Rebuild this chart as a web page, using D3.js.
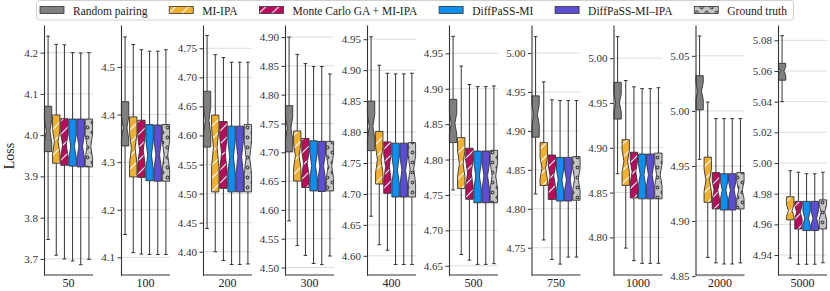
<!doctype html>
<html lang="en">
<head>
  <script src="https://d3js.org/d3.v7.min.js"></script>
  <style>
    body { margin: 0; background: #fff; }
    svg { font-family: "Liberation Serif", "DejaVu Serif", serif; }
  </style>
</head>
<body>
  <svg id="chart" width="830" height="291"></svg>
  <script>
    // number of sequences per panel (x labels)
    const sizes = ["50", "100", "200", "300", "400", "500", "750", "1000", "2000", "5000"];
    const methods = ["Random pairing", "MI-IPA", "Monte Carlo GA + MI-IPA", "DiffPaSS-MI", "DiffPaSS-MI\u2013IPA", "Ground truth"];

    // box stats, one row per panel, one column per method
    const whiskerLow = [
      [3.747, 3.709, 3.700, 3.695, 3.686, 3.699],
      [4.148, 4.110, 4.107, 4.106, 4.106, 4.106],
      [4.440, 4.400, 4.385, 4.378, 4.378, 4.379],
      [4.581, 4.538, 4.521, 4.507, 4.505, 4.520],
      [4.664, 4.618, 4.609, 4.586, 4.586, 4.586],
      [4.757, 4.666, 4.658, 4.652, 4.652, 4.653],
      [4.819, 4.760, 4.735, 4.729, 4.738, 4.738],
      [4.871, 4.788, 4.774, 4.771, 4.771, 4.771],
      [4.956, 4.867, 4.862, 4.861, 4.861, 4.862],
      [5.040, 4.938, 4.934, 4.934, 4.934, 4.935]
    ];
    const q1 = [
      [3.960, 3.932, 3.927, 3.925, 3.923, 3.923],
      [4.334, 4.269, 4.268, 4.261, 4.260, 4.260],
      [4.580, 4.503, 4.509, 4.503, 4.503, 4.503],
      [4.701, 4.650, 4.639, 4.633, 4.632, 4.633],
      [4.770, 4.716, 4.701, 4.695, 4.695, 4.695],
      [4.824, 4.759, 4.744, 4.739, 4.739, 4.739],
      [4.892, 4.830, 4.812, 4.810, 4.810, 4.811],
      [4.932, 4.858, 4.844, 4.843, 4.843, 4.843],
      [5.001, 4.917, 4.911, 4.910, 4.910, 4.911],
      [5.054, 4.963, 4.957, 4.956, 4.956, 4.957]
    ];
    const median = [
      [4.010, 3.984, 3.976, 3.973, 3.973, 3.973],
      [4.372, 4.329, 4.325, 4.315, 4.315, 4.315],
      [4.626, 4.579, 4.569, 4.563, 4.563, 4.562],
      [4.742, 4.694, 4.681, 4.677, 4.676, 4.676],
      [4.809, 4.755, 4.744, 4.739, 4.738, 4.740],
      [4.851, 4.794, 4.781, 4.777, 4.777, 4.777],
      [4.921, 4.852, 4.842, 4.837, 4.837, 4.838],
      [4.950, 4.885, 4.873, 4.870, 4.870, 4.870],
      [5.018, 4.937, 4.928, 4.928, 4.928, 4.928],
      [5.060, 4.969, 4.968, 4.964, 4.964, 4.968]
    ];
    const q3 = [
      [4.070, 4.049, 4.040, 4.039, 4.039, 4.039],
      [4.427, 4.395, 4.388, 4.379, 4.378, 4.379],
      [4.676, 4.635, 4.624, 4.616, 4.616, 4.619],
      [4.781, 4.737, 4.724, 4.720, 4.719, 4.719],
      [4.850, 4.801, 4.784, 4.782, 4.782, 4.783],
      [4.885, 4.831, 4.816, 4.812, 4.812, 4.813],
      [4.945, 4.885, 4.869, 4.866, 4.866, 4.867],
      [4.973, 4.909, 4.895, 4.893, 4.893, 4.894],
      [5.032, 4.958, 4.944, 4.943, 4.943, 4.944],
      [5.065, 4.978, 4.975, 4.975, 4.975, 4.976]
    ];
    const whiskerHigh = [
      [4.240, 4.220, 4.219, 4.200, 4.199, 4.200],
      [4.563, 4.547, 4.536, 4.533, 4.533, 4.536],
      [4.772, 4.739, 4.734, 4.726, 4.726, 4.726],
      [4.900, 4.870, 4.854, 4.849, 4.849, 4.836],
      [4.954, 4.908, 4.895, 4.894, 4.894, 4.895],
      [4.974, 4.932, 4.906, 4.903, 4.903, 4.904],
      [5.021, 4.963, 4.940, 4.939, 4.939, 4.939],
      [5.024, 4.975, 4.968, 4.966, 4.966, 4.967],
      [5.068, 5.008, 4.993, 4.993, 4.993, 4.993],
      [5.083, 4.995, 4.994, 4.993, 4.993, 4.994]
    ];
    const sampleSize = 40; // used for notch height (matplotlib rule 1.57*IQR/sqrt(n))

    const yDomains = [
      [3.661, 4.267], [4.063, 4.588], [4.360, 4.790], [4.487, 4.921], [4.569, 4.973],
      [4.637, 4.990], [4.715, 5.036], [4.758, 5.037], [4.851, 5.078], [4.927, 5.090]
    ];
    const yTicks = [
      [3.7, 3.8, 3.9, 4.0, 4.1, 4.2],
      [4.1, 4.2, 4.3, 4.4, 4.5],
      [4.40, 4.45, 4.50, 4.55, 4.60, 4.65, 4.70, 4.75],
      [4.50, 4.55, 4.60, 4.65, 4.70, 4.75, 4.80, 4.85, 4.90],
      [4.60, 4.65, 4.70, 4.75, 4.80, 4.85, 4.90, 4.95],
      [4.65, 4.70, 4.75, 4.80, 4.85, 4.90, 4.95],
      [4.75, 4.80, 4.85, 4.90, 4.95, 5.00],
      [4.80, 4.85, 4.90, 4.95, 5.00],
      [4.85, 4.90, 4.95, 5.00, 5.05],
      [4.94, 4.96, 4.98, 5.00, 5.02, 5.04, 5.06, 5.08]
    ];
    const tickFormats = [".1f", ".1f", ".2f", ".2f", ".2f", ".2f", ".2f", ".2f", ".2f", ".2f"];

    // layout
    const panelLeft = [44, 121, 203, 285, 367, 449, 531.5, 613.5, 695.5, 778];
    const panelW = 49;
    const plotTop = 25, plotBottom = 275;
    const colors = ["#7f7f7f", "#f2b02f", "#b80b5c", "#0c8ef2", "#5a4fd4", "#c4c4c4"];
    const fills = ["#7f7f7f", "url(#hatchOrange)", "url(#hatchCrimson)", "#0c8ef2", "#5a4fd4", "url(#dotsGray)"];
    const edge = "#333";

    const svg = d3.select("#chart");
    const defs = svg.append("defs");

    function slashPattern(id, color) {
      const p = defs.append("pattern").attr("id", id)
        .attr("patternUnits", "userSpaceOnUse").attr("width", 13).attr("height", 13);
      p.append("rect").attr("width", 13).attr("height", 13).attr("fill", color);
      p.append("path").attr("d", "M0,13L13,0M-2,2L2,-2M11,15L15,11")
        .attr("stroke", "#fff").attr("stroke-width", 1.1);
    }
    slashPattern("hatchOrange", colors[1]);
    slashPattern("hatchCrimson", colors[2]);
    const dp = defs.append("pattern").attr("id", "dotsGray")
      .attr("patternUnits", "userSpaceOnUse").attr("width", 10).attr("height", 10);
    dp.append("rect").attr("width", 10).attr("height", 10).attr("fill", colors[5]);
    dp.selectAll("circle").data([[2.5, 2.5], [7.5, 7.5]]).join("circle")
      .attr("cx", d => d[0]).attr("cy", d => d[1]).attr("r", 1.4)
      .attr("fill", "none").attr("stroke", "#111").attr("stroke-width", 1);

    sizes.forEach((size, i) => {
      const L = panelLeft[i];
      const g = svg.append("g");
      const x = d3.scaleBand().domain(d3.range(methods.length))
        .range([L, L + panelW]).paddingInner(0.1).paddingOuter(0.05);
      const y = d3.scaleLinear().domain(yDomains[i]).range([plotBottom, plotTop]);

      // grid
      g.append("g").selectAll("line").data(yTicks[i]).join("line")
        .attr("x1", L).attr("x2", L + panelW)
        .attr("y1", d => y(d)).attr("y2", d => y(d))
        .attr("stroke", "#dcdcdc").attr("stroke-width", 1);

      const bw = x.bandwidth();
      const boxes = g.append("g").selectAll("g").data(methods).join("g");
      boxes.each(function (m, j) {
        const b = d3.select(this);
        const x0 = x(j), x1 = x0 + bw, cx = x0 + bw / 2;
        const lo = whiskerLow[i][j], a = q1[i][j], md = median[i][j], c = q3[i][j], hi = whiskerHigh[i][j];
        const n = 1.57 * (c - a) / Math.sqrt(sampleSize);
        b.append("line").attr("x1", cx).attr("x2", cx).attr("y1", y(lo)).attr("y2", y(a));
        b.append("line").attr("x1", cx).attr("x2", cx).attr("y1", y(c)).attr("y2", y(hi));
        b.append("line").attr("x1", cx - bw / 4).attr("x2", cx + bw / 4).attr("y1", y(lo)).attr("y2", y(lo));
        b.append("line").attr("x1", cx - bw / 4).attr("x2", cx + bw / 4).attr("y1", y(hi)).attr("y2", y(hi));
        b.selectAll("line").attr("stroke", edge).attr("stroke-width", 1);
        const path = d3.path();
        path.moveTo(x0, y(a));
        path.lineTo(x1, y(a));
        path.lineTo(x1, y(md - n));
        path.lineTo(x1 - bw / 4, y(md));
        path.lineTo(x1, y(md + n));
        path.lineTo(x1, y(c));
        path.lineTo(x0, y(c));
        path.lineTo(x0, y(md + n));
        path.lineTo(x0 + bw / 4, y(md));
        path.lineTo(x0, y(md - n));
        path.closePath();
        b.append("path").attr("d", path.toString())
          .attr("fill", fills[j]).attr("stroke", edge).attr("stroke-width", 0.9);
      });

      // axes
      g.append("g")
        .attr("transform", `translate(${L},0)`)
        .call(d3.axisLeft(y).tickValues(yTicks[i]).tickFormat(d3.format(tickFormats[i]))
          .tickSize(3.5).tickSizeOuter(0).tickPadding(2.5))
        .call(a => a.select(".domain").attr("stroke", edge).attr("stroke-width", 1.1))
        .call(a => a.selectAll(".tick line").attr("stroke", edge))
        .call(a => a.selectAll(".tick text").attr("fill", "#333")
          .attr("font-size", 11).attr("font-family", "Liberation Serif, serif"));
      g.append("line").attr("x1", L).attr("x2", L + panelW)
        .attr("y1", plotBottom).attr("y2", plotBottom)
        .attr("stroke", edge).attr("stroke-width", 1.1);
      g.append("text").attr("x", L + panelW / 2).attr("y", 287)
        .attr("text-anchor", "middle").attr("font-size", 12).attr("fill", "#222")
        .text(size);
    });

    svg.append("text")
      .attr("transform", "translate(14,156) rotate(-90)")
      .attr("text-anchor", "middle").attr("font-size", 14).attr("fill", "#222")
      .text("Loss");

    // legend: one row, constant column spacing
    const lg = svg.append("g");
    lg.append("rect").attr("x", 36.5).attr("y", 0.5).attr("width", 757).attr("height", 19.5)
      .attr("rx", 3).attr("fill", "#fff").attr("stroke", "#d0d0d0");
    const items = lg.selectAll("g").data(methods).join("g");
    items.append("rect").attr("x", 0).attr("y", 6.5).attr("width", 24).attr("height", 7)
      .attr("fill", (d, j) => fills[j]).attr("stroke", edge).attr("stroke-width", 0.8);
    items.append("text").attr("x", 33).attr("y", 14.5)
      .attr("font-size", 11.5).attr("fill", "#222").text(d => d);
    const widths = [];
    items.select("text").each(function () { widths.push(this.getComputedTextLength()); });
    const legStart = 40, legEnd = 787;
    const gap = (legEnd - legStart - 33 * methods.length - d3.sum(widths)) / (methods.length - 1);
    let cur = legStart;
    items.attr("transform", (d, j) => {
      const t = `translate(${cur},0)`;
      cur += 33 + widths[j] + gap;
      return t;
    });
  </script>
</body>
</html>
